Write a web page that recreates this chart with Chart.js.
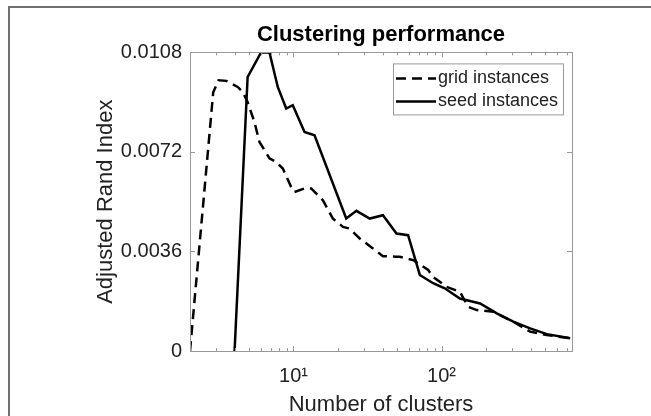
<!DOCTYPE html>
<html>
<head>
<meta charset="utf-8">
<script src="https://cdn.jsdelivr.net/npm/chart.js@4.4.1/dist/chart.umd.min.js"></script>
<style>
	html, body { margin: 0; padding: 0; background: #fff; }
	#wrap { position: relative; width: 651px; height: 416px; }
	#frame { position: absolute; left: 8px; top: 6px; right: 0; bottom: -10px; border-left: 2px solid #707070; border-top: 2px solid #707070; }
	canvas { position: absolute; left: 0; top: 0; }
</style>
</head>
<body>
<div id="wrap">
	<div id="frame"></div>
	<canvas id="c" width="651" height="416"></canvas>
</div>
<script>
// number of clusters (log x) and adjusted rand index
const gridX = [2, 2.87, 3.12, 3.52, 4.2, 4.54, 4.9, 5.45, 5.89, 6.88, 7.64, 8.47, 9.65, 10.16, 11.87, 13.18, 15.8, 18.45, 21.6, 23.9, 28, 34.4, 40.2, 49.6, 52.2, 64.2, 81.2, 87.7, 108, 133, 151, 173, 224, 305, 396, 514, 739];
const gridY = [0, 0.00936, 0.00979, 0.00977, 0.00955, 0.00937, 0.00900, 0.00828, 0.00756, 0.00697, 0.00684, 0.00660, 0.00593, 0.00575, 0.00588, 0.00588, 0.00545, 0.00479, 0.00449, 0.00443, 0.00407, 0.00371, 0.00343, 0.00341, 0.00341, 0.00329, 0.00293, 0.00268, 0.00232, 0.00214, 0.00160, 0.00148, 0.00142, 0.00106, 0.00070, 0.00058, 0.00046];

const seedX = [4, 4.9, 6.04, 6.88, 7.83, 8.93, 9.89, 11.87, 13.87, 22.7, 26.6, 32.7, 40.2, 49.6, 59.4, 71.3, 87.7, 105, 133, 182, 236, 305, 396, 514, 739];
const seedY = [0, 0.00991, 0.0108, 0.0108, 0.00955, 0.00877, 0.00889, 0.00792, 0.00780, 0.00479, 0.00507, 0.00479, 0.00491, 0.00425, 0.00419, 0.00275, 0.00245, 0.00227, 0.00190, 0.00172, 0.00136, 0.00106, 0.00082, 0.00061, 0.00046];

const yTicks = [0, 0.0036, 0.0072, 0.0108];
const xTicks = [10, 100];
const xTickLabels = ['10\u00B9', '10\u00B2'];

const FONT = "'Liberation Sans', Arial, Helvetica, sans-serif";
const AXIS = '#999999';
const INK = '#222222';

function pts(xs, ys) {
	return xs.map((x, i) => ({x: x, y: ys[i]}));
}

// matlab style box with inward ticks
const boxTicks = {
	id: 'boxTicks',
	afterDatasetsDraw(chart) {
		const {ctx, chartArea: a, scales: {x, y}} = chart;
		ctx.save();
		ctx.strokeStyle = AXIS;
		ctx.lineWidth = 1;
		ctx.beginPath();
		for (let d = 1; d <= 1000; d *= 10) {
			for (let k = 1; k <= 9; k++) {
				const v = d * k;
				if (v < x.min || v > x.max) continue;
				const px = Math.round(x.getPixelForValue(v)) + 0.5;
				const len = k === 1 ? 5 : 3;
				ctx.moveTo(px, a.bottom); ctx.lineTo(px, a.bottom - len);
				ctx.moveTo(px, a.top); ctx.lineTo(px, a.top + len);
			}
		}
		yTicks.forEach(v => {
			const py = Math.round(y.getPixelForValue(v)) + 0.5;
			ctx.moveTo(a.left, py); ctx.lineTo(a.left + 5, py);
			ctx.moveTo(a.right, py); ctx.lineTo(a.right - 5, py);
		});
		ctx.stroke();
		ctx.strokeRect(Math.round(a.left) + 0.5, Math.round(a.top) + 0.5, Math.round(a.right - a.left), Math.round(a.bottom - a.top));
		ctx.restore();
	}
};

// legend box inside the top right corner
const boxLegend = {
	id: 'boxLegend',
	afterDraw(chart) {
		const {ctx, chartArea: a} = chart;
		const w = 170, h = 51;
		const bx = a.right - 9 - w, by = a.top + 11;
		ctx.save();
		ctx.fillStyle = '#fff';
		ctx.fillRect(bx, by, w, h);
		ctx.strokeStyle = AXIS;
		ctx.lineWidth = 1;
		ctx.strokeRect(bx + 0.5, by + 0.5, w, h);
		ctx.font = '18px ' + FONT;
		ctx.textBaseline = 'middle';
		chart.data.datasets.forEach((ds, i) => {
			const cy = by + 15 + i * 23;
			ctx.strokeStyle = ds.borderColor;
			ctx.lineWidth = ds.borderWidth;
			ctx.setLineDash(ds.borderDash || []);
			ctx.beginPath();
			ctx.moveTo(bx + 3, cy); ctx.lineTo(bx + 43, cy);
			ctx.stroke();
			ctx.setLineDash([]);
			ctx.fillStyle = INK;
			ctx.fillText(ds.label, bx + 45, cy);
		});
		ctx.restore();
	}
};

new Chart(document.getElementById('c'), {
	type: 'line',
	data: {
		datasets: [{
			label: 'grid instances',
			data: pts(gridX, gridY),
			borderColor: '#000',
			borderWidth: 2.5,
			borderDash: [10, 6],
			pointRadius: 0,
			tension: 0
		}, {
			label: 'seed instances',
			data: pts(seedX, seedY),
			borderColor: '#000',
			borderWidth: 2.5,
			pointRadius: 0,
			tension: 0
		}]
	},
	options: {
		responsive: false,
		animation: false,
		layout: { padding: { left: 0, right: 79, top: 0, bottom: 0 } },
		plugins: {
			legend: { display: false },
			tooltip: { enabled: false },
			title: {
				display: true,
				fullSize: false,
				text: 'Clustering performance',
				color: '#000',
				font: { family: FONT, size: 22, weight: 'bold', lineHeight: 1.2 },
				padding: { top: 22, bottom: 4 }
			}
		},
		scales: {
			x: {
				type: 'logarithmic',
				min: 2,
				max: 760,
				grid: { display: false, drawTicks: false },
				border: { display: false },
				afterBuildTicks: s => { s.ticks = xTicks.map(v => ({value: v})); },
				afterFit: s => { s.height = 65; },
				ticks: {
					autoSkip: false,
					maxRotation: 0,
					padding: 13,
					color: INK,
					font: { family: FONT, size: 20 },
					callback: (v) => xTickLabels[xTicks.indexOf(v)]
				},
				title: {
					display: true,
					text: 'Number of clusters',
					color: INK,
					font: { family: FONT, size: 22, lineHeight: 1.0 },
					padding: { top: 0, bottom: 0 }
				}
			},
			y: {
				min: 0,
				max: 0.0108,
				grid: { display: false, drawTicks: false },
				border: { display: false },
				afterBuildTicks: s => { s.ticks = yTicks.map(v => ({value: v})); },
				afterFit: s => { s.width = 190; },
				ticks: {
					padding: 8,
					color: INK,
					font: { family: FONT, size: 20 },
					callback: v => v === 0 ? '0' : v.toFixed(4)
				},
				title: {
					display: true,
					text: 'Adjusted Rand Index',
					color: INK,
					font: { family: FONT, size: 22, lineHeight: 1.2 },
					padding: { top: 93, bottom: 0 }
				}
			}
		}
	},
	plugins: [boxTicks, boxLegend]
});
</script>
</body>
</html>
